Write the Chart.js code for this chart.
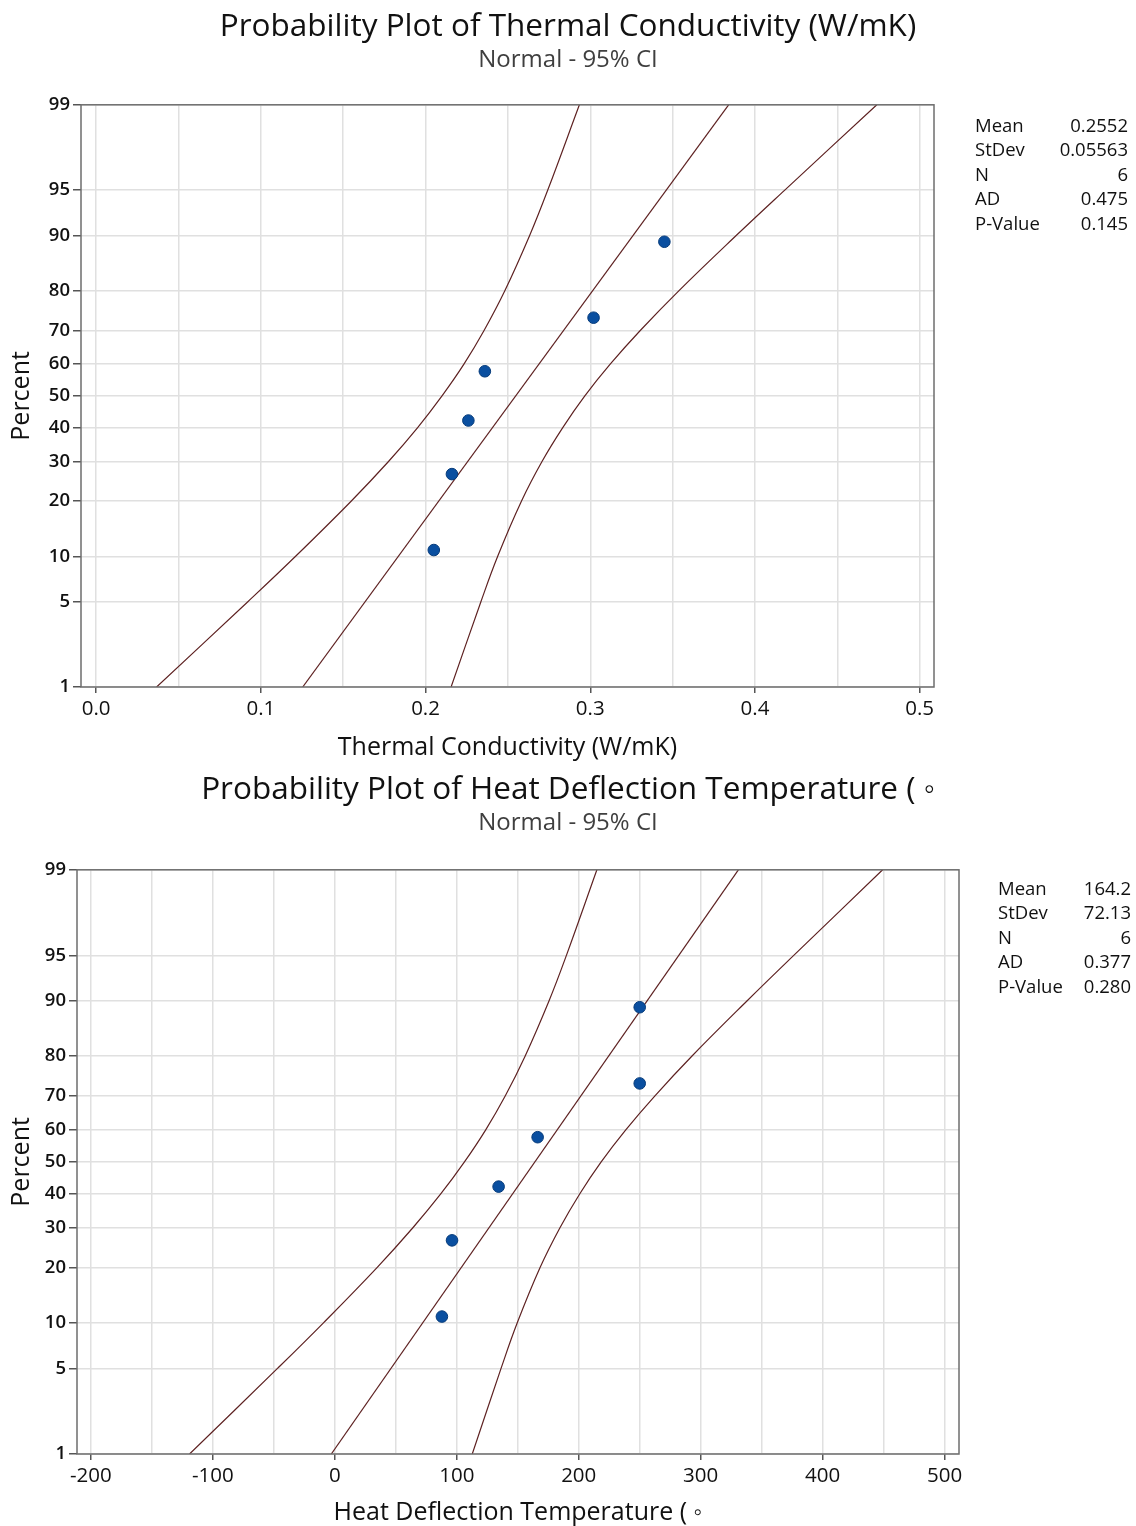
<!DOCTYPE html>
<html>
<head>
<meta charset="utf-8">
<script src="https://cdn.jsdelivr.net/npm/chart.js@4.4.1/dist/chart.umd.min.js"></script>
<style>
  html, body { margin: 0; padding: 0; background: #ffffff; overflow: hidden; }
  #wrap { position: relative; width: 1136px; height: 1526px; }
  canvas { position: absolute; left: 0; }
  .stat { position: absolute; font-family: 'Open Sans', 'Noto Sans', sans-serif; font-size: 18.5px; color: #111111; line-height: 24.5px; height: 24.5px; white-space: nowrap; }
  .val { text-align: right; }
</style>
</head>
<body>
<div id="wrap">
  <canvas id="c1" width="1136" height="763" style="top:0px"></canvas>
  <canvas id="c2" width="1136" height="763" style="top:763px"></canvas>
</div>
<script>
// ---------------- DATA ----------------
const percentTicks = [1, 5, 10, 20, 30, 40, 50, 60, 70, 80, 90, 95, 99];
const plotPositions = [10.9, 26.6, 42.2, 57.8, 73.4, 89.1];   // percent of each sorted observation
const ciPercent = [1, 5, 10, 20, 30, 40, 50, 60, 70, 80, 90, 95, 99];
const fitPercent = [1, 99];
const statLabels = ['Mean', 'StDev', 'N', 'AD', 'P-Value'];

// Thermal Conductivity (W/mK)
const tcValues = [0.205, 0.216, 0.226, 0.236, 0.302, 0.345];
const tcFit = [0.1254, 0.3840];
const tcLower = [0.0367, 0.0921, 0.1211, 0.1548, 0.1775, 0.1952, 0.2100, 0.2233, 0.2356, 0.2482, 0.2632, 0.2742, 0.2934];
const tcUpper = [0.2155, 0.2336, 0.2438, 0.2582, 0.2707, 0.2833, 0.2967, 0.3121, 0.3305, 0.3539, 0.3886, 0.4181, 0.4740];
const tcXTicks = [0.0, 0.1, 0.2, 0.3, 0.4, 0.5];
const tcStats = ['0.2552', '0.05563', '6', '0.475', '0.145'];

// Heat Deflection Temperature
const hdtValues = [87.8, 96.1, 134.3, 166.3, 250.0, 250.0];
const hdtFit = [-2.9, 330.9];
const hdtLower = [-119.1, -47.0, -9.3, 34.6, 64.0, 87.0, 106.3, 123.6, 139.7, 156.0, 175.6, 189.9, 214.9];
const hdtUpper = [112.7, 136.3, 149.6, 168.3, 184.6, 200.9, 218.4, 238.4, 262.3, 292.7, 337.9, 376.3, 449.2];
const hdtXTicks = [-200, -100, 0, 100, 200, 300, 400, 500];
const hdtStats = ['164.2', '72.13', '6', '0.377', '0.280'];

// ---------------- helpers ----------------
function probit(p) {
  const a = [-3.969683028665376e+01, 2.209460984245205e+02, -2.759285104469687e+02, 1.383577518672690e+02, -3.066479806614716e+01, 2.506628277459239e+00];
  const b = [-5.447609879822406e+01, 1.615858368580409e+02, -1.556989798598866e+02, 6.680131188771972e+01, -1.328068155288572e+01];
  const c = [-7.784894002430293e-03, -3.223964580411365e-01, -2.400758277161838e+00, -2.549732539343734e+00, 4.374664141464968e+00, 2.938163982698783e+00];
  const d = [7.784695709041462e-03, 3.224671290700398e-01, 2.445134137142996e+00, 3.754408661907416e+00];
  const pl = 0.02425, ph = 1 - pl;
  let q, r;
  if (p < pl) {
    q = Math.sqrt(-2 * Math.log(p));
    return (((((c[0]*q+c[1])*q+c[2])*q+c[3])*q+c[4])*q+c[5]) / ((((d[0]*q+d[1])*q+d[2])*q+d[3])*q+1);
  }
  if (p <= ph) {
    q = p - 0.5; r = q * q;
    return (((((a[0]*r+a[1])*r+a[2])*r+a[3])*r+a[4])*r+a[5])*q / (((((b[0]*r+b[1])*r+b[2])*r+b[3])*r+b[4])*r+1);
  }
  q = Math.sqrt(-2 * Math.log(1 - p));
  return -(((((c[0]*q+c[1])*q+c[2])*q+c[3])*q+c[4])*q+c[5]) / ((((d[0]*q+d[1])*q+d[2])*q+d[3])*q+1);
}
const zOf = p => probit(p / 100);
const pairs = (xs, ps) => xs.map((x, i) => ({ x: x, y: zOf(ps[i]) }));

const FONT = "'Open Sans', 'Noto Sans', sans-serif";
const LINE_COLOR = '#5e2222';
const GRID = '#e0e0e0';

const framePlugin = {
  id: 'frame',
  afterDatasetsDraw(chart) {
    const { ctx, chartArea: a } = chart;
    ctx.save();
    ctx.strokeStyle = '#6e6e6e';
    ctx.lineWidth = 1.5;
    ctx.strokeRect(a.left, a.top, a.right - a.left, a.bottom - a.top);
    ctx.restore();
  }
};

function makeChart(id, cfg) {
  const zMin = zOf(1), zMax = zOf(99);
  const isMajor = v => cfg.xTicks.some(t => Math.abs(t - v) < cfg.step * 1e-6);
  const curve = (vals) => ({ data: pairs(vals, ciPercent), showLine: true, pointRadius: 0,
    borderColor: LINE_COLOR, borderWidth: 1.2, tension: 0.4 });
  return new Chart(document.getElementById(id), {
    type: 'scatter',
    data: {
      datasets: [
        { label: 'data', data: pairs(cfg.values, plotPositions), showLine: false,
          pointRadius: 5.8, pointBackgroundColor: '#0a4fa0', pointBorderColor: '#063b7a', pointBorderWidth: 1 },
        { label: 'fit', data: pairs(cfg.fit, fitPercent), showLine: true, pointRadius: 0,
          borderColor: LINE_COLOR, borderWidth: 1.2 },
        Object.assign({ label: 'lower' }, curve(cfg.lower)),
        Object.assign({ label: 'upper' }, curve(cfg.upper))
      ]
    },
    options: {
      responsive: false,
      animation: false,
      events: [],
      layout: { padding: 0 },
      plugins: {
        legend: { display: false },
        tooltip: { enabled: false },
        title: { display: true, text: cfg.title, color: '#111111',
          font: { family: FONT, size: 31.5, weight: 'normal' }, padding: { top: 8, bottom: 0 } },
        subtitle: { display: true, text: 'Normal - 95% CI', color: '#3f3f3f',
          font: { family: FONT, size: 24, weight: 'normal' }, padding: { top: 0, bottom: cfg.subPadBottom } }
      },
      scales: {
        x: {
          type: 'linear', min: cfg.xMin, max: cfg.xMax,
          afterFit: s => { s.height = cfg.xHeight; },
          border: { display: false },
          grid: { color: GRID, lineWidth: 1.5, tickLength: 6, tickWidth: 1.5,
            tickColor: ctx => (ctx.tick && isMajor(ctx.tick.value)) ? '#555555' : 'rgba(0,0,0,0)' },
          ticks: { stepSize: cfg.step, includeBounds: false, autoSkip: false, maxRotation: 0, padding: 4,
            color: '#111111', font: { family: FONT, size: 20.5, weight: '500' },
            callback: v => isMajor(v) ? cfg.fmt(cfg.xTicks.find(t => Math.abs(t - v) < cfg.step * 1e-6)) : '' },
          title: { display: true, text: cfg.xTitle, color: '#111111',
            font: { family: FONT, size: 25 }, padding: { top: 0, bottom: cfg.xTitlePad } }
        },
        y: {
          type: 'linear', min: zMin, max: zMax,
          afterFit: s => { s.width = cfg.yWidth; },
          afterBuildTicks: s => { s.ticks = percentTicks.map(p => ({ value: zOf(p) })); },
          border: { display: false },
          grid: { color: GRID, lineWidth: 1.5, tickLength: 8, tickWidth: 1.5, tickColor: '#555555' },
          ticks: { autoSkip: false, padding: 3, color: '#111111',
            font: { family: FONT, size: 18.5, weight: '600' },
            callback: (v, i) => String(percentTicks[i]) },
          title: { display: true, text: 'Percent', color: '#111111',
            font: { family: FONT, size: 25 }, padding: { top: 7, bottom: 0 } }
        },
        pad: {
          type: 'linear', position: 'right', display: true,
          afterFit: s => { s.width = cfg.padRight; },
          border: { display: false },
          grid: { display: false, drawTicks: false },
          ticks: { display: false }
        }
      }
    },
    plugins: [framePlugin]
  });
}

makeChart('c1', {
  title: 'Probability Plot of Thermal Conductivity (W/mK)',
  xTitle: 'Thermal Conductivity (W/mK)',
  values: tcValues, fit: tcFit, lower: tcLower, upper: tcUpper,
  xTicks: tcXTicks, step: 0.05, fmt: v => v.toFixed(1),
  xMin: -0.0092, xMax: 0.5087,
  padRight: 202, yWidth: 81, xHeight: 76, subPadBottom: 30.2, xTitlePad: 0
});

makeChart('c2', {
  title: 'Probability Plot of Heat Deflection Temperature ( \u25E6',
  xTitle: 'Heat Deflection Temperature ( \u25E6',
  values: hdtValues, fit: hdtFit, lower: hdtLower, upper: hdtUpper,
  xTicks: hdtXTicks, step: 50, fmt: v => String(v),
  xMin: -211.4, xMax: 511.8,
  padRight: 177, yWidth: 77, xHeight: 72, subPadBottom: 32.2, xTitlePad: -2
});

// ---------------- stats boxes (HTML text) ----------------
function addStats(values, labelLeft, valueRight, firstCenter) {
  const wrap = document.getElementById('wrap');
  statLabels.forEach((lab, i) => {
    const top = firstCenter + i * 24.5 - 12.25;
    const l = document.createElement('div');
    l.className = 'stat'; l.textContent = lab;
    l.style.left = labelLeft + 'px'; l.style.top = top + 'px';
    wrap.appendChild(l);
    const v = document.createElement('div');
    v.className = 'stat val'; v.textContent = values[i];
    v.style.right = (1136 - valueRight) + 'px'; v.style.top = top + 'px';
    wrap.appendChild(v);
  });
}
addStats(tcStats, 975, 1128, 125);
addStats(hdtStats, 998, 1131, 888);
</script>
</body>
</html>
